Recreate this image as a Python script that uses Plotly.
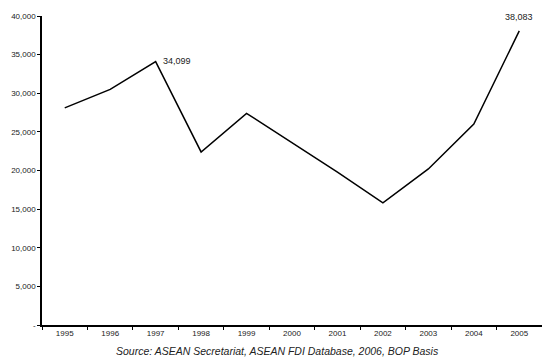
import plotly.graph_objects as go

years = ["1995", "1996", "1997", "1998", "1999", "2000", "2001", "2002", "2003", "2004", "2005"]
fdi = [28100, 30500, 34099, 22400, 27400, 23600, 19800, 15800, 20200, 26000, 38083]
y_ticks = [0, 5000, 10000, 15000, 20000, 25000, 30000, 35000, 40000]
y_tick_text = ["-", "5,000", "10,000", "15,000", "20,000", "25,000", "30,000", "35,000", "40,000"]
source = "Source: ASEAN Secretariat, ASEAN FDI Database, 2006, BOP Basis"

fig = go.Figure()
fig.add_trace(go.Scatter(x=years, y=fdi, mode="lines",
                         line=dict(color="black", width=1.5), hoverinfo="x+y"))

i97 = years.index("1997")
i05 = years.index("2005")
fig.add_annotation(x=i97, y=fdi[i97], text="34,099", showarrow=False,
                   xanchor="left", yanchor="middle", xshift=5, yshift=1,
                   font=dict(size=9, color="#222"))
fig.add_annotation(x=i05, y=fdi[i05], text="38,083", showarrow=False,
                   xanchor="center", yanchor="bottom", yshift=7,
                   font=dict(size=9, color="#222"))
fig.add_annotation(x=0.47, y=-0.058, xref="paper", yref="paper", text=source,
                   showarrow=False, xanchor="center", yanchor="top",
                   font=dict(size=10.5, color="#222", family="Liberation Sans", style="italic"))

fig.update_layout(
    width=542, height=359,
    margin=dict(l=42, r=0, t=16, b=34),
    plot_bgcolor="white", paper_bgcolor="white",
    showlegend=False,
    font=dict(family="Liberation Sans, Arial, sans-serif", size=8, color="#222"),
    xaxis=dict(type="category", tickson="boundaries", ticks="outside", ticklen=3,
               tickcolor="black", showline=True, linecolor="black", linewidth=1.5,
               showgrid=False, range=[-0.5, 10.5], tickfont=dict(size=8)),
    yaxis=dict(range=[0, 40000], tickvals=y_ticks, ticktext=y_tick_text,
               ticks="outside", ticklen=3, tickcolor="black", showline=True,
               linecolor="black", linewidth=1.5, showgrid=False, zeroline=False,
               tickfont=dict(size=8)),
)

fig.write_html("out.html", config={"displayModeBar": False},
               post_script="document.body.style.margin='0';")
